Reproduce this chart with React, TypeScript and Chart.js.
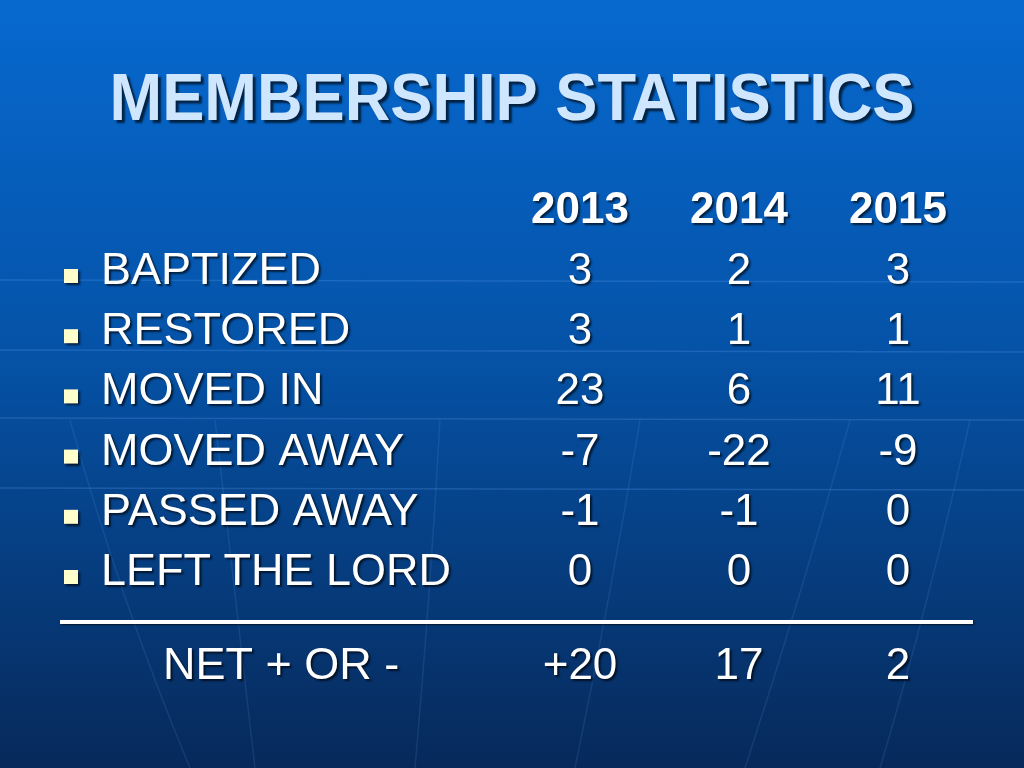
import React, { useEffect, useRef } from "react";
import { Chart, registerables } from "chart.js";

Chart.register(...registerables);

// ---- Data ----
const TITLE = "MEMBERSHIP STATISTICS";
const YEARS = ["2013", "2014", "2015"];
const ROW_LABELS = ["BAPTIZED", "RESTORED", "MOVED IN", "MOVED AWAY", "PASSED AWAY", "LEFT THE LORD"];
const VALUES_2013 = ["3", "3", "23", "-7", "-1", "0"];
const VALUES_2014 = ["2", "1", "6", "-22", "-1", "0"];
const VALUES_2015 = ["3", "1", "11", "-9", "0", "0"];
const NET_LABEL = "NET + OR -";
const NET_VALUES = ["+20", "17", "2"];

const COLUMN_VALUES = [VALUES_2013, VALUES_2014, VALUES_2015];

// ---- Style ----
const FONT = "'Liberation Sans', Arial, sans-serif";
const SHADOW = "rgba(0,0,0,0.65)";

function withShadow(ctx: CanvasRenderingContext2D, off = 2) {
  ctx.shadowColor = SHADOW;
  ctx.shadowOffsetX = off;
  ctx.shadowOffsetY = off;
  ctx.shadowBlur = 2;
}

const slidePlugin = {
  id: "slideTable",
  beforeDraw(chart: any) {
    const { ctx, width, height } = chart;
    ctx.save();
    const g = ctx.createLinearGradient(0, 0, 0, height);
    g.addColorStop(0, "#0769cf");
    g.addColorStop(0.45, "#0553a8");
    g.addColorStop(1, "#07295a");
    ctx.fillStyle = g;
    ctx.fillRect(0, 0, width, height);

    // faint globe grid lines (decoration)
    ctx.strokeStyle = "rgba(110,175,255,0.22)";
    ctx.lineWidth = 1.5;
    for (const y of [280, 350, 418, 488]) {
      ctx.beginPath();
      ctx.moveTo(0, y);
      ctx.lineTo(width, y + 2);
      ctx.stroke();
    }
    ctx.strokeStyle = "rgba(110,175,255,0.13)";
    const meridians = [
      [70, 420, 120, 600, 190, 768],
      [215, 420, 235, 600, 255, 768],
      [440, 420, 430, 600, 415, 768],
      [640, 420, 610, 600, 575, 768],
      [850, 420, 800, 600, 745, 768],
      [970, 420, 930, 600, 880, 768],
    ];
    for (const m of meridians) {
      ctx.beginPath();
      ctx.moveTo(m[0], m[1]);
      ctx.quadraticCurveTo(m[2], m[3], m[4], m[5]);
      ctx.stroke();
    }
    ctx.restore();
  },
  afterDatasetsDraw(chart: any) {
    const { ctx } = chart;
    const xScale = chart.scales.x;
    const yScale = chart.scales.y;
    const step = yScale.getPixelForValue(1) - yScale.getPixelForValue(0);
    const firstY = yScale.getPixelForValue(0);
    const lastY = yScale.getPixelForValue(ROW_LABELS.length - 1);
    const capHalf = 16;

    ctx.save();
    // Title
    ctx.font = `bold 67px ${FONT}`;
    ctx.textAlign = "center";
    ctx.textBaseline = "alphabetic";
    const tw = ctx.measureText(TITLE).width;
    ctx.save();
    ctx.translate(512, 120);
    ctx.scale(805 / tw, 1);
    withShadow(ctx, 3);
    ctx.fillStyle = "#cfe6ff";
    ctx.fillText(TITLE, 0, 0);
    ctx.restore();

    // Column headers
    ctx.font = `bold 44px ${FONT}`;
    ctx.fillStyle = "#ffffff";
    withShadow(ctx);
    const headerY = firstY - step;
    YEARS.forEach((yr, i) => {
      ctx.fillText(yr, xScale.getPixelForValue(i), headerY + capHalf - 1);
    });

    // Row labels and bullets
    ctx.textAlign = "left";
    ctx.font = `45px ${FONT}`;
    ROW_LABELS.forEach((lab, j) => {
      const y = yScale.getPixelForValue(j);
      ctx.fillStyle = "#ffffcc";
      ctx.fillRect(64, y + capHalf - 15, 14, 14);
      ctx.fillStyle = "#ffffff";
      ctx.fillText(lab, 101, y + capHalf);
    });

    // Cell values from dataset elements
    ctx.textAlign = "center";
    ctx.font = `44px ${FONT}`;
    chart.data.datasets.forEach((ds: any, i: number) => {
      const meta = chart.getDatasetMeta(i);
      meta.data.forEach((el: any, j: number) => {
        ctx.fillText(ds.data[j].text, el.x, el.y + capHalf);
      });
    });

    // Rule
    const ruleY = lastY + step * 0.88;
    ctx.shadowOffsetX = 1;
    ctx.shadowOffsetY = 1;
    ctx.fillStyle = "#ffffff";
    ctx.fillRect(60, ruleY - 2, 913, 4);

    // Net row
    withShadow(ctx);
    const netY = lastY + step * 1.56;
    ctx.font = `45px ${FONT}`;
    ctx.textAlign = "left";
    ctx.fillText(NET_LABEL, 163, netY + capHalf);
    ctx.textAlign = "center";
    ctx.font = `44px ${FONT}`;
    NET_VALUES.forEach((v, i) => {
      ctx.fillText(v, xScale.getPixelForValue(i), netY + capHalf);
    });
    ctx.restore();
  },
};

export default function App() {
  const ref = useRef<HTMLCanvasElement | null>(null);
  useEffect(() => {
    if (!ref.current) return;
    const datasets = YEARS.map((yr, i) => ({
      label: yr,
      data: ROW_LABELS.map((r, j) => ({ x: yr, y: r, text: COLUMN_VALUES[i][j] })),
      pointRadius: 0,
      pointHoverRadius: 0,
      showLine: false,
    }));
    const chart = new Chart(ref.current, {
      type: "scatter",
      data: { datasets: datasets as any },
      options: {
        responsive: false,
        animation: false,
        devicePixelRatio: 1,
        events: [],
        layout: { padding: { left: 580, right: 1024 - 898, top: 268, bottom: 768 - 569 } },
        scales: {
          x: { type: "category", labels: YEARS, offset: false, display: false },
          y: { type: "category", labels: ROW_LABELS, offset: false, display: false },
        },
        plugins: { legend: { display: false }, tooltip: { enabled: false }, title: { display: false } },
      },
      plugins: [slidePlugin as any],
    });
    return () => chart.destroy();
  }, []);
  return (
    <div style={{ position: "absolute", left: 0, top: 0, width: 1024, height: 768 }}>
      <canvas ref={ref} width={1024} height={768} style={{ display: "block", width: 1024, height: 768 }} />
    </div>
  );
}
